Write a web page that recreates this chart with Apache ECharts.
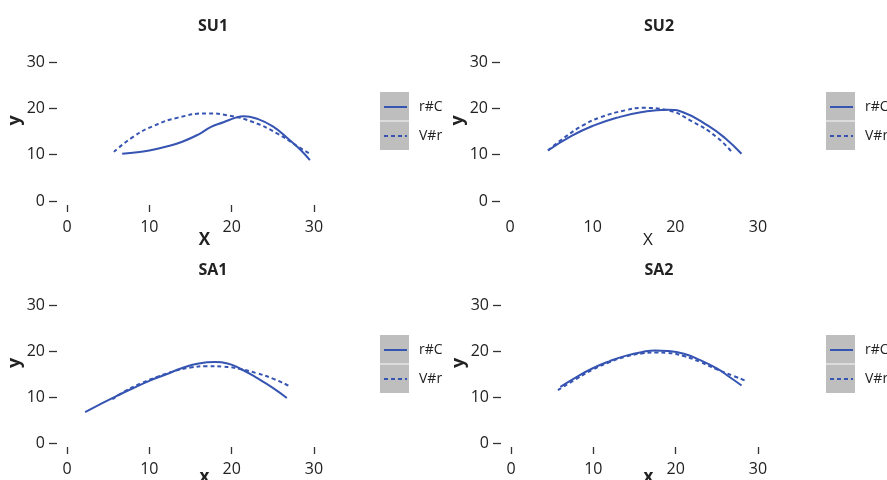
<!DOCTYPE html>
<html>
<head>
<meta charset="utf-8">
<script src="https://cdn.jsdelivr.net/npm/echarts@6/dist/echarts.min.js"></script>
<style>
  html, body { margin: 0; padding: 0; background: #fff; }
  #chart { width: 887px; height: 480px; }
</style>
</head>
<body>
<div id="chart"></div>
<script>
// panel titles and legend names
var panels = ['SU1', 'SU2', 'SA1', 'SA2'];
var seriesNames = ['r#C', 'V#r'];

// SU1
var su1SolidX = [6.7, 8, 10, 12, 14, 16, 17.5, 19, 20.5, 21.5, 23, 25, 27, 28.5, 29.5];
var su1SolidY = [10.2, 10.4, 10.9, 11.7, 12.8, 14.4, 16.0, 17.0, 18.0, 18.3, 17.8, 16.1, 13.2, 10.8, 8.8];
var su1DashX = [5.7, 8, 10.5, 13.5, 17, 19.5, 22.5, 25.5, 28, 29.5];
var su1DashY = [10.6, 13.8, 16.2, 18.0, 18.9, 18.5, 17.1, 14.6, 11.8, 10.2];
// SU2
var su2SolidX = [4.6, 7.5, 10, 13, 16, 19, 21, 24, 26, 28];
var su2SolidY = [10.9, 14.1, 16.2, 18.0, 19.2, 19.7, 19.1, 16.2, 13.6, 10.2];
var su2DashX = [4.6, 6.5, 9, 11, 14, 16, 19, 22, 25, 26.8];
var su2DashY = [10.9, 13.6, 16.5, 18.1, 19.6, 20.1, 19.6, 17.2, 13.8, 10.6];
// SA1
var sa1SolidX = [2.2, 4, 6, 8, 10, 12, 14, 16, 18, 19.5, 21, 23, 25, 26.7];
var sa1SolidY = [6.7, 8.4, 10.2, 11.9, 13.5, 14.9, 16.3, 17.3, 17.6, 17.3, 16.2, 14.2, 12.0, 9.8];
var sa1DashX = [5.5, 7, 9, 11, 13, 15, 17, 19, 21, 23, 25, 27.1];
var sa1DashY = [9.5, 11.2, 13.0, 14.4, 15.6, 16.4, 16.7, 16.6, 16.1, 15.2, 14.0, 12.3];
// SA2
var sa2SolidX = [6, 8, 10, 12, 14, 16, 17.5, 19, 21, 23, 25, 26.5, 28];
var sa2SolidY = [12.2, 14.4, 16.3, 17.8, 19.0, 19.8, 20.1, 20.0, 19.4, 18.0, 16.2, 14.4, 12.5];
var sa2DashX = [5.7, 8, 10, 12, 14, 16, 17.5, 19, 21, 23, 25, 27, 28.4];
var sa2DashY = [11.5, 14.0, 16.0, 17.6, 18.8, 19.5, 19.7, 19.6, 18.9, 17.6, 16.0, 14.6, 13.6];

var solidX = [su1SolidX, su2SolidX, sa1SolidX, sa2SolidX];
var solidY = [su1SolidY, su2SolidY, sa1SolidY, sa2SolidY];
var dashX = [su1DashX, su2DashX, sa1DashX, sa2DashX];
var dashY = [su1DashY, su2DashY, sa1DashY, sa2DashY];

var blue = '#3654b2';
var font = '"Open Sans", "Noto Sans", sans-serif';

// panel boxes: [left, top, width, height]
var boxes = [
    [67, 62, 247, 139],
    [510, 62, 248, 139],
    [67, 305, 247, 138],
    [511, 305, 247, 138]
];
var titlePos = [[208, 13], [654, 13], [208, 257], [654, 257]];
var xNames = ['X', 'X', 'x', 'x'];
var xNameGaps = [27, 27, 22, 22];
var legendPos = [[380, 92], [826, 92], [380, 335], [826, 335]];

function zip(xs, ys) {
    return xs.map(function (x, i) { return [x, ys[i]]; });
}

var option = {
    animation: false,
    textStyle: { fontFamily: font },
    title: [],
    grid: [],
    xAxis: [],
    yAxis: [],
    legend: [],
    graphic: [],
    series: []
};

for (var i = 0; i < panels.length; i++) {
    var b = boxes[i];
    option.title.push({
        text: panels[i],
        left: titlePos[i][0],
        top: titlePos[i][1],
        textAlign: 'center',
        textStyle: { fontSize: 16, fontWeight: 'bold', color: '#222', fontFamily: font }
    });
    option.grid.push({
        left: b[0], top: b[1], width: b[2], height: b[3],
        containLabel: false,
        outerBoundsMode: 'none'
    });
    option.xAxis.push({
        type: 'value',
        gridIndex: i,
        min: 0,
        max: 30,
        interval: 10,
        offset: 4,
        name: xNames[i],
        nameLocation: 'middle',
        nameGap: xNameGaps[i],
        nameMoveOverlap: false,
        nameTextStyle: {
            fontSize: 17,
            fontWeight: i == 1 ? 'normal' : 'bold',
            color: '#222',
            padding: [0, 0, 0, 28]
        },
        axisLine: { show: false, onZero: false },
        axisTick: { show: i != 1, length: 7, lineStyle: { color: '#333', width: 1.3 } },
        axisLabel: { fontSize: 16, color: '#222', margin: 14 },
        splitLine: { show: false }
    });
    option.yAxis.push({
        type: 'value',
        gridIndex: i,
        min: 0,
        max: 30,
        interval: 10,
        offset: 10,
        name: 'y',
        nameLocation: 'middle',
        nameGap: 33,
        nameMoveOverlap: false,
        nameTextStyle: {
            fontSize: 18,
            fontWeight: 'bold',
            color: '#222',
            padding: [0, 0, 0, 22]
        },
        axisLine: { show: false, onZero: false },
        axisTick: { show: true, length: 8, lineStyle: { color: '#333', width: 1.3 } },
        axisLabel: { fontSize: 16, color: '#222', margin: 12 },
        splitLine: { show: false }
    });

    // grey key boxes behind the legend
    var lp = legendPos[i];
    option.graphic.push({
        type: 'rect',
        shape: { x: lp[0], y: lp[1], width: 29, height: 58 },
        style: { fill: '#bebebe' },
        z: 0
    });
    option.graphic.push({
        type: 'line',
        shape: { x1: lp[0], y1: lp[1] + 29, x2: lp[0] + 29, y2: lp[1] + 29 },
        style: { stroke: '#e6e6e6', lineWidth: 1.5 },
        z: 1
    });
    option.legend.push({
        data: seriesNames,
        orient: 'vertical',
        left: lp[0] + 3,
        top: lp[1] + 8,
        padding: 0,
        itemWidth: 23,
        itemHeight: 14,
        itemGap: 15,
        selectedMode: false,
        itemStyle: { opacity: 0 },
        textStyle: { fontSize: 14, color: '#222', fontFamily: font, padding: [0, 0, 0, 7] }
    });

    option.series.push({
        name: seriesNames[0],
        type: 'line',
        xAxisIndex: i,
        yAxisIndex: i,
        smooth: true,
        symbol: 'none',
        lineStyle: { color: blue, width: 2 },
        itemStyle: { color: blue },
        data: zip(solidX[i], solidY[i])
    });
    option.series.push({
        name: seriesNames[1],
        type: 'line',
        xAxisIndex: i,
        yAxisIndex: i,
        smooth: true,
        symbol: 'none',
        lineStyle: { color: blue, width: 2, type: [4, 3] },
        itemStyle: { color: blue },
        data: zip(dashX[i], dashY[i])
    });
}

var myChart = echarts.init(document.getElementById('chart'), null, { renderer: 'canvas' });
myChart.setOption(option);
</script>
</body>
</html>
